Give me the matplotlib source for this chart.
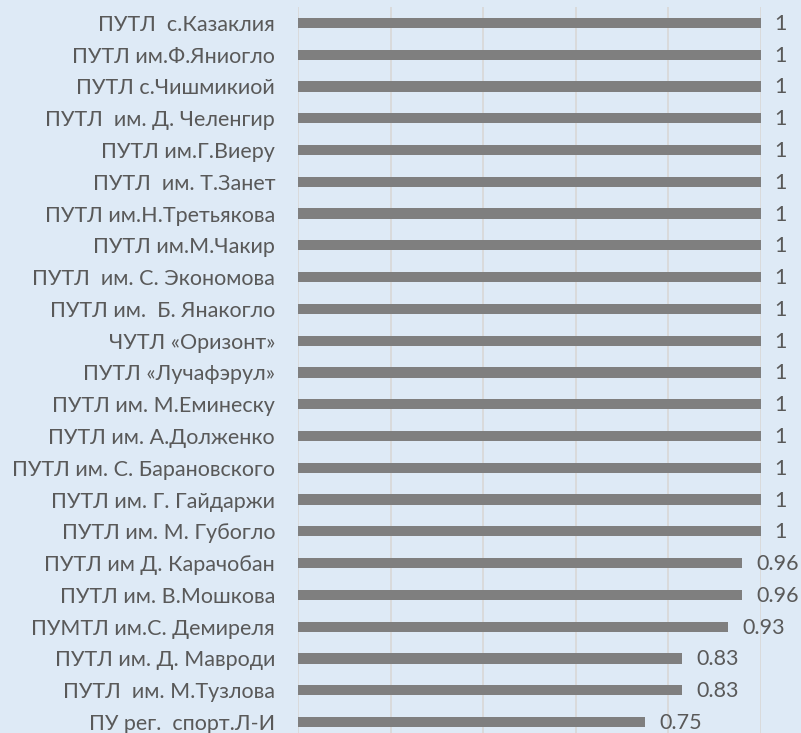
import matplotlib
matplotlib.use("Agg")
import matplotlib.pyplot as plt
from matplotlib.ticker import MultipleLocator

categories = [
    "ПУТЛ  с.Казаклия",
    "ПУТЛ им.Ф.Яниогло",
    "ПУТЛ с.Чишмикиой",
    "ПУТЛ  им. Д. Челенгир",
    "ПУТЛ им.Г.Виеру",
    "ПУТЛ  им. Т.Занет",
    "ПУТЛ им.Н.Третьякова",
    "ПУТЛ им.М.Чакир",
    "ПУТЛ  им. С. Экономова",
    "ПУТЛ им.  Б. Янакогло",
    "ЧУТЛ «Оризонт»",
    "ПУТЛ «Лучафэрул»",
    "ПУТЛ им. М.Еминеску",
    "ПУТЛ им. А.Долженко",
    "ПУТЛ им. С. Барановского",
    "ПУТЛ им. Г. Гайдаржи",
    "ПУТЛ им. М. Губогло",
    "ПУТЛ им Д. Карачобан",
    "ПУТЛ им. В.Мошкова",
    "ПУМТЛ им.С. Демиреля",
    "ПУТЛ им. Д. Мавроди",
    "ПУТЛ  им. М.Тузлова",
    "ПУ рег.  спорт.Л-И",
]
values = [1, 1, 1, 1, 1, 1, 1, 1, 1, 1, 1, 1, 1, 1, 1, 1, 1,
          0.96, 0.96, 0.93, 0.83, 0.83, 0.75]
value_labels = ["1"] * 17 + ["0.96", "0.96", "0.93", "0.83", "0.83", "0.75"]

BG = "#DEEAF6"
BAR = "#7F7F7F"
GRID = "#D9D9D9"
TXT = "#595959"

plt.rcParams['font.family'] = ['Lato', 'DejaVu Sans']

W, H = 801, 733
fig = plt.figure(figsize=(W / 100, H / 100), dpi=100, facecolor=BG)
left_px, right_px = 298, 760.7
top_px, bot_px = 7, 733
ax = fig.add_axes([left_px / W, 1 - bot_px / H, (right_px - left_px) / W, (bot_px - top_px) / H])
ax.set_facecolor(BG)

n = len(categories)
ypos = list(range(n))
ax.barh(ypos, values, height=0.32, color=BAR, zorder=3)

ax.set_xlim(0, 1.0)
ax.set_ylim(22 + (733 - 722) / 31.8, -0.5)

ax.xaxis.set_major_locator(MultipleLocator(0.2))
ax.grid(axis='x', color=GRID, linewidth=1.3, zorder=0)
ax.tick_params(axis='x', which='both', length=0, labelbottom=False)
ax.tick_params(axis='y', length=0, pad=16.5, labelsize=15.5, labelcolor=TXT)
ax.set_yticks(ypos)
ax.set_yticklabels(categories)
for s in ax.spines.values():
    s.set_visible(False)

for y, v, lab in zip(ypos, values, value_labels):
    ax.annotate(lab, xy=(v, y), xytext=(14, -1), textcoords='offset pixels',
                ha='left', va='center', fontsize=15.5, color=TXT,
                annotation_clip=False, clip_on=False)

fig.savefig("out.png", dpi=100, facecolor=BG)
